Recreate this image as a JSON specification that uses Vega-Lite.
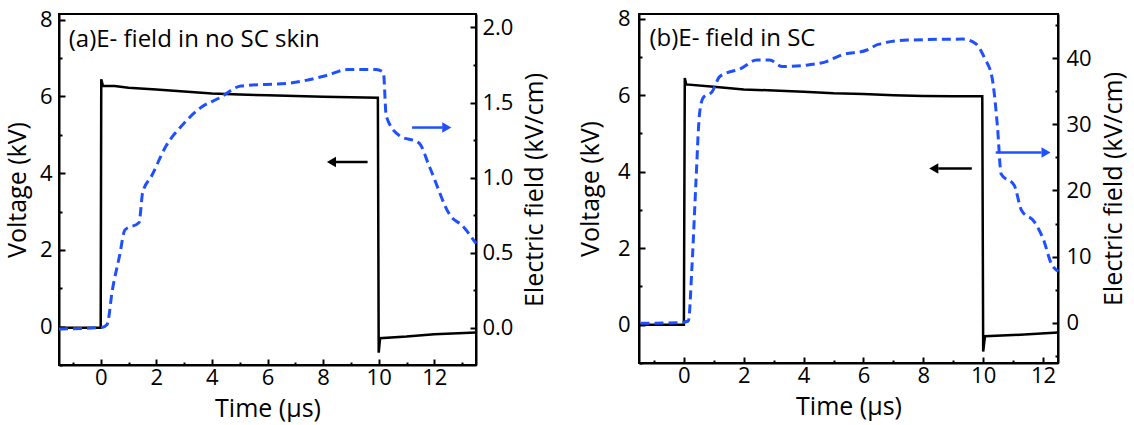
{
  "$schema": "https://vega.github.io/schema/vega-lite/v6.json",
  "padding": {"left": 4, "top": 6, "right": 5, "bottom": 0},
  "background": "white",
  "spacing": 28,
  "config": {
    "font": "Open Sans",
    "view": {"stroke": "black", "strokeWidth": 2},
    "axis": {
      "domainColor": "black", "domainWidth": 2, "tickColor": "black", "tickWidth": 2,
      "labelColor": "black", "labelFont": "Open Sans", "labelFontSize": 22,
      "titleColor": "black", "titleFont": "Open Sans", "titleFontSize": 25, "titleFontWeight": "normal",
      "grid": false
    }
  },
  "datasets": {
    "va": [
      {"t": -1.5, "v": -0.03}, {"t": 0.0, "v": -0.03}, {"t": 0.02, "v": 6.45}, {"t": 0.08, "v": 6.28},
      {"t": 0.5, "v": 6.27}, {"t": 1, "v": 6.23}, {"t": 2, "v": 6.18}, {"t": 3, "v": 6.13}, {"t": 4, "v": 6.08},
      {"t": 5, "v": 6.05}, {"t": 6, "v": 6.03}, {"t": 7, "v": 6.01}, {"t": 8, "v": 5.99}, {"t": 9, "v": 5.98},
      {"t": 9.97, "v": 5.97}, {"t": 10.0, "v": -0.68}, {"t": 10.05, "v": -0.3}, {"t": 11, "v": -0.26},
      {"t": 12, "v": -0.2}, {"t": 13.5, "v": -0.15}
    ],
    "ea": [
      {"t": -1.5, "e": -0.01}, {"t": 0.04, "e": 0.0}, {"t": 0.23, "e": 0.02}, {"t": 0.42, "e": 0.25},
      {"t": 0.68, "e": 0.48}, {"t": 0.87, "e": 0.65}, {"t": 1.38, "e": 0.70}, {"t": 1.51, "e": 0.90},
      {"t": 1.83, "e": 1.01}, {"t": 2.35, "e": 1.21}, {"t": 2.99, "e": 1.36}, {"t": 3.63, "e": 1.47},
      {"t": 4.27, "e": 1.53}, {"t": 5.04, "e": 1.61}, {"t": 6.83, "e": 1.63}, {"t": 8.12, "e": 1.68},
      {"t": 8.88, "e": 1.72}, {"t": 9.91, "e": 1.72}, {"t": 10.17, "e": 1.70}, {"t": 10.27, "e": 1.41},
      {"t": 10.74, "e": 1.28}, {"t": 11.45, "e": 1.23}, {"t": 11.83, "e": 1.07}, {"t": 12.6, "e": 0.74},
      {"t": 13.0, "e": 0.68}, {"t": 13.5, "e": 0.56}
    ],
    "vb": [
      {"t": -1.5, "v": 0.0}, {"t": 0.0, "v": 0.0}, {"t": 0.03, "v": 6.45}, {"t": 0.08, "v": 6.28},
      {"t": 1, "v": 6.22}, {"t": 2, "v": 6.15}, {"t": 3, "v": 6.12}, {"t": 4, "v": 6.09}, {"t": 5, "v": 6.05},
      {"t": 6, "v": 6.03}, {"t": 7, "v": 6.0}, {"t": 8, "v": 5.98}, {"t": 9, "v": 5.97}, {"t": 9.97, "v": 5.97},
      {"t": 10.0, "v": -0.7}, {"t": 10.06, "v": -0.3}, {"t": 11, "v": -0.27}, {"t": 12.5, "v": -0.2}
    ],
    "eb": [
      {"t": -1.45, "e": -0.1}, {"t": -0.16, "e": 0.0}, {"t": 0.15, "e": 0.25}, {"t": 0.27, "e": 8.5},
      {"t": 0.4, "e": 21}, {"t": 0.52, "e": 31.5}, {"t": 0.64, "e": 34}, {"t": 0.95, "e": 35},
      {"t": 1.2, "e": 37.25}, {"t": 1.93, "e": 38.5}, {"t": 2.43, "e": 39.75}, {"t": 2.86, "e": 39.75},
      {"t": 3.29, "e": 38.75}, {"t": 4.15, "e": 39}, {"t": 4.76, "e": 39.5}, {"t": 5.26, "e": 40.5},
      {"t": 6.12, "e": 41.25}, {"t": 6.49, "e": 42.1}, {"t": 7.47, "e": 42.75}, {"t": 9.31, "e": 42.9},
      {"t": 9.74, "e": 42.25}, {"t": 10.05, "e": 40}, {"t": 10.3, "e": 37}, {"t": 10.48, "e": 29.5},
      {"t": 10.6, "e": 22.5}, {"t": 11.04, "e": 20.75}, {"t": 11.28, "e": 17}, {"t": 11.71, "e": 15.25},
      {"t": 12.02, "e": 12.5}, {"t": 12.27, "e": 9}, {"t": 12.51, "e": 7.75}
    ],
    "arrA": [
      {"from": 9.6, "to": 8.45, "head": 8.3, "y": 4.29, "shape": "triangle-left", "series": "V"},
      {"from": 11.2, "to": 12.3, "head": 12.45, "y": 5.19, "shape": "triangle-right", "series": "E"}
    ],
    "arrB": [
      {"from": 9.62, "to": 8.5, "head": 8.35, "y": 4.08, "shape": "triangle-left", "series": "V"},
      {"from": 10.42, "to": 11.95, "head": 12.1, "y": 4.5, "shape": "triangle-right", "series": "E"}
    ],
    "labA": [{"t": -1.15, "v": 7.46, "label": "(a)E- field in no SC skin"}],
    "labB": [{"t": -1.15, "v": 7.47, "label": "(b)E- field in SC"}]
  },
  "hconcat": [
    {
      "width": 417, "height": 351,
      "layer": [
        {
          "data": {"name": "va"},
          "mark": {"type": "line", "color": "black", "strokeWidth": 2.5, "interpolate": "linear"},
          "encoding": {
            "x": {"field": "t", "type": "quantitative", "scale": {"domain": [-1.5, 13.5], "nice": false, "zero": false},
                  "axis": {"orient": "bottom", "title": "Time (μs)", "values": [0, 2, 4, 6, 8, 10, 12], "tickSize": -6, "labelPadding": 8, "titlePadding": 8}},
            "y": {"field": "v", "type": "quantitative", "scale": {"domain": [-1, 8.15], "nice": false, "zero": false},
                  "axis": {"orient": "left", "title": "Voltage (kV)", "values": [0, 2, 4, 6, 8], "tickSize": -6, "labelPadding": 13, "titlePadding": 9}}
          }
        },
        {
          "data": {"name": "va"},
          "mark": {"type": "line", "opacity": 0},
          "encoding": {
            "x": {"field": "t", "type": "quantitative", "scale": {"domain": [-1.5, 13.5], "nice": false, "zero": false},
                  "axis": {"orient": "bottom", "title": null, "labels": false, "domain": false, "values": [-1, 1, 3, 5, 7, 9, 11, 13], "tickSize": -3}},
            "y": {"field": "v", "type": "quantitative", "scale": {"domain": [-1, 8.15], "nice": false, "zero": false},
                  "axis": {"orient": "left", "title": null, "labels": false, "domain": false, "values": [-1, 1, 3, 5, 7], "tickSize": -3}}
          }
        },
        {
          "data": {"name": "ea"},
          "mark": {"type": "line", "color": "#1f50ff", "strokeWidth": 3, "strokeDash": [9, 5], "interpolate": "monotone"},
          "encoding": {
            "x": {"field": "t", "type": "quantitative", "scale": {"domain": [-1.5, 13.5], "nice": false, "zero": false}, "axis": null},
            "y": {"field": "e", "type": "quantitative", "scale": {"domain": [-0.25, 2.09], "nice": false, "zero": false},
                  "axis": {"orient": "right", "title": "Electric field (kV/cm)", "titleAngle": 270, "titleBaseline": "top", "values": [0, 0.5, 1, 1.5, 2], "format": ".1f", "tickSize": -6, "labelPadding": 12, "titlePadding": 10}}
          }
        },
        {
          "data": {"name": "ea"},
          "mark": {"type": "line", "opacity": 0},
          "encoding": {
            "x": {"field": "t", "type": "quantitative", "scale": {"domain": [-1.5, 13.5], "nice": false, "zero": false}, "axis": null},
            "y": {"field": "e", "type": "quantitative", "scale": {"domain": [-0.25, 2.09], "nice": false, "zero": false},
                  "axis": {"orient": "right", "title": null, "labels": false, "domain": false, "values": [0.25, 0.75, 1.25, 1.75], "tickSize": -3}}
          }
        },
        {
          "data": {"name": "labA"},
          "mark": {"type": "text", "align": "left", "baseline": "middle", "fontSize": 24, "font": "Open Sans", "color": "black"},
          "encoding": {
            "x": {"field": "t", "type": "quantitative", "scale": {"domain": [-1.5, 13.5], "nice": false, "zero": false}, "axis": null},
            "y": {"field": "v", "type": "quantitative", "scale": {"domain": [-1, 8.15], "nice": false, "zero": false}, "axis": null},
            "text": {"field": "label"}
          }
        },
        {
          "data": {"name": "arrA"},
          "mark": {"type": "rule", "strokeWidth": 2.5},
          "encoding": {
            "x": {"field": "from", "type": "quantitative", "scale": {"domain": [-1.5, 13.5], "nice": false, "zero": false}, "axis": null},
            "x2": {"field": "to"},
            "y": {"field": "y", "type": "quantitative", "scale": {"domain": [-1, 8.15], "nice": false, "zero": false}, "axis": null},
            "color": {"field": "series", "type": "nominal", "scale": {"domain": ["V", "E"], "range": ["black", "#1f50ff"]}, "legend": null}
          }
        },
        {
          "data": {"name": "arrA"},
          "mark": {"type": "point", "filled": true, "opacity": 1, "size": 110},
          "encoding": {
            "x": {"field": "head", "type": "quantitative", "scale": {"domain": [-1.5, 13.5], "nice": false, "zero": false}, "axis": null},
            "y": {"field": "y", "type": "quantitative", "scale": {"domain": [-1, 8.15], "nice": false, "zero": false}, "axis": null},
            "shape": {"field": "shape", "type": "nominal", "scale": null},
            "color": {"field": "series", "type": "nominal", "scale": {"domain": ["V", "E"], "range": ["black", "#1f50ff"]}, "legend": null}
          }
        }
      ],
      "resolve": {"scale": {"y": "independent"}, "axis": {"x": "independent", "y": "independent"}}
    },
    {
      "width": 419, "height": 349,
      "layer": [
        {
          "data": {"name": "vb"},
          "mark": {"type": "line", "color": "black", "strokeWidth": 2.5},
          "encoding": {
            "x": {"field": "t", "type": "quantitative", "scale": {"domain": [-1.5, 12.5], "nice": false, "zero": false},
                  "axis": {"orient": "bottom", "title": "Time (μs)", "values": [0, 2, 4, 6, 8, 10, 12], "tickSize": -6, "labelPadding": 8, "titlePadding": 8}},
            "y": {"field": "v", "type": "quantitative", "scale": {"domain": [-1, 8.12], "nice": false, "zero": false},
                  "axis": {"orient": "left", "title": "Voltage (kV)", "values": [0, 2, 4, 6, 8], "tickSize": -6, "labelPadding": 15, "titlePadding": 14}}
          }
        },
        {
          "data": {"name": "vb"},
          "mark": {"type": "line", "opacity": 0},
          "encoding": {
            "x": {"field": "t", "type": "quantitative", "scale": {"domain": [-1.5, 12.5], "nice": false, "zero": false},
                  "axis": {"orient": "bottom", "title": null, "labels": false, "domain": false, "values": [-1, 1, 3, 5, 7, 9, 11], "tickSize": -3}},
            "y": {"field": "v", "type": "quantitative", "scale": {"domain": [-1, 8.12], "nice": false, "zero": false},
                  "axis": {"orient": "left", "title": null, "labels": false, "domain": false, "values": [-1, 1, 3, 5, 7], "tickSize": -3}}
          }
        },
        {
          "data": {"name": "eb"},
          "mark": {"type": "line", "color": "#1f50ff", "strokeWidth": 3, "strokeDash": [9, 5], "interpolate": "monotone"},
          "encoding": {
            "x": {"field": "t", "type": "quantitative", "scale": {"domain": [-1.5, 12.5], "nice": false, "zero": false}, "axis": null},
            "y": {"field": "e", "type": "quantitative", "scale": {"domain": [-6.1, 46.7], "nice": false, "zero": false},
                  "axis": {"orient": "right", "title": "Electric field (kV/cm)", "titleAngle": 270, "titleBaseline": "top", "values": [0, 10, 20, 30, 40], "tickSize": -6, "labelPadding": 14, "titlePadding": 10}}
          }
        },
        {
          "data": {"name": "eb"},
          "mark": {"type": "line", "opacity": 0},
          "encoding": {
            "x": {"field": "t", "type": "quantitative", "scale": {"domain": [-1.5, 12.5], "nice": false, "zero": false}, "axis": null},
            "y": {"field": "e", "type": "quantitative", "scale": {"domain": [-6.1, 46.7], "nice": false, "zero": false},
                  "axis": {"orient": "right", "title": null, "labels": false, "domain": false, "values": [-5, 5, 15, 25, 35, 45], "tickSize": -3}}
          }
        },
        {
          "data": {"name": "labB"},
          "mark": {"type": "text", "align": "left", "baseline": "middle", "fontSize": 24, "font": "Open Sans", "color": "black"},
          "encoding": {
            "x": {"field": "t", "type": "quantitative", "scale": {"domain": [-1.5, 12.5], "nice": false, "zero": false}, "axis": null},
            "y": {"field": "v", "type": "quantitative", "scale": {"domain": [-1, 8.12], "nice": false, "zero": false}, "axis": null},
            "text": {"field": "label"}
          }
        },
        {
          "data": {"name": "arrB"},
          "mark": {"type": "rule", "strokeWidth": 2.5},
          "encoding": {
            "x": {"field": "from", "type": "quantitative", "scale": {"domain": [-1.5, 12.5], "nice": false, "zero": false}, "axis": null},
            "x2": {"field": "to"},
            "y": {"field": "y", "type": "quantitative", "scale": {"domain": [-1, 8.12], "nice": false, "zero": false}, "axis": null},
            "color": {"field": "series", "type": "nominal", "scale": {"domain": ["V", "E"], "range": ["black", "#1f50ff"]}, "legend": null}
          }
        },
        {
          "data": {"name": "arrB"},
          "mark": {"type": "point", "filled": true, "opacity": 1, "size": 110},
          "encoding": {
            "x": {"field": "head", "type": "quantitative", "scale": {"domain": [-1.5, 12.5], "nice": false, "zero": false}, "axis": null},
            "y": {"field": "y", "type": "quantitative", "scale": {"domain": [-1, 8.12], "nice": false, "zero": false}, "axis": null},
            "shape": {"field": "shape", "type": "nominal", "scale": null},
            "color": {"field": "series", "type": "nominal", "scale": {"domain": ["V", "E"], "range": ["black", "#1f50ff"]}, "legend": null}
          }
        }
      ],
      "resolve": {"scale": {"y": "independent"}, "axis": {"x": "independent", "y": "independent"}}
    }
  ],
  "resolve": {"scale": {"color": "independent", "shape": "independent"}}
}
